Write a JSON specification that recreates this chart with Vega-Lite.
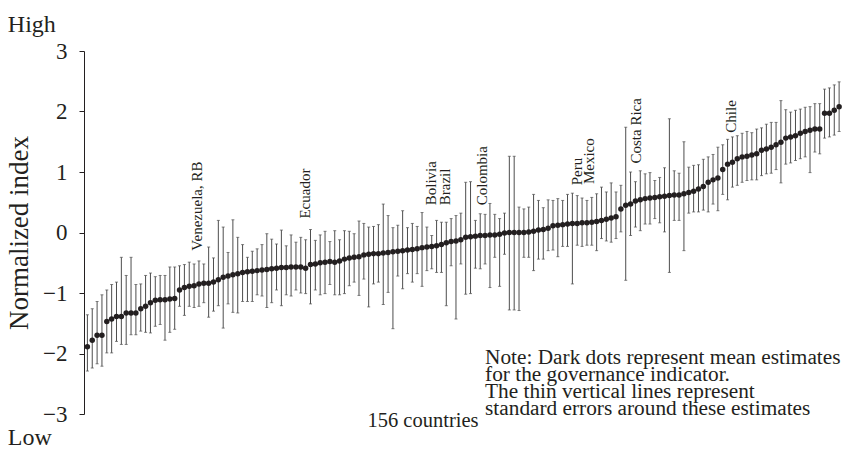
{
"$schema": "https://vega.github.io/schema/vega-lite/v6.json",
"width": 759, "height": 363,
"autosize": {"type": "none"},
"padding": {"left": 84, "top": 51, "right": 0, "bottom": 40},
"background": "white",
"config": {"view": {"stroke": null}, "font": "Times New Roman, Liberation Serif, Times, serif", "text": {"font": "Times New Roman, Liberation Serif, Times, serif"}},
"datasets": {
"countries": [
{"rank":1,"mean":-1.89,"low":-2.29,"high":-1.36},
{"rank":2,"mean":-1.78,"low":-2.24,"high":-1.26},
{"rank":3,"mean":-1.70,"low":-2.17,"high":-1.14},
{"rank":4,"mean":-1.70,"low":-2.21,"high":-1.03},
{"rank":5,"mean":-1.47,"low":-1.99,"high":-0.95},
{"rank":6,"mean":-1.43,"low":-1.99,"high":-0.86},
{"rank":7,"mean":-1.39,"low":-1.80,"high":-0.82},
{"rank":8,"mean":-1.39,"low":-1.85,"high":-0.41},
{"rank":9,"mean":-1.33,"low":-1.85,"high":-0.71},
{"rank":10,"mean":-1.33,"low":-1.69,"high":-0.41},
{"rank":11,"mean":-1.33,"low":-1.69,"high":-0.86},
{"rank":12,"mean":-1.26,"low":-1.63,"high":-0.85},
{"rank":13,"mean":-1.22,"low":-1.65,"high":-0.71},
{"rank":14,"mean":-1.16,"low":-1.66,"high":-0.67},
{"rank":15,"mean":-1.12,"low":-1.55,"high":-0.73},
{"rank":16,"mean":-1.11,"low":-1.52,"high":-0.71},
{"rank":17,"mean":-1.11,"low":-1.78,"high":-0.71},
{"rank":18,"mean":-1.10,"low":-1.65,"high":-0.57},
{"rank":19,"mean":-1.09,"low":-1.60,"high":-0.57},
{"rank":20,"mean":-0.95,"low":-1.22,"high":-0.55},
{"rank":21,"mean":-0.91,"low":-1.37,"high":-0.53},
{"rank":22,"mean":-0.89,"low":-1.22,"high":-0.49},
{"rank":23,"mean":-0.88,"low":-1.24,"high":-0.52},
{"rank":24,"mean":-0.85,"low":-1.22,"high":-0.47},
{"rank":25,"mean":-0.84,"low":-1.16,"high":-0.52},
{"rank":26,"mean":-0.84,"low":-1.40,"high":-0.24},
{"rank":27,"mean":-0.82,"low":-1.30,"high":-0.42},
{"rank":28,"mean":-0.78,"low":-1.21,"high":0.20},
{"rank":29,"mean":-0.74,"low":-1.58,"high":0.09},
{"rank":30,"mean":-0.72,"low":-1.18,"high":-0.33},
{"rank":31,"mean":-0.70,"low":-1.32,"high":0.21},
{"rank":32,"mean":-0.68,"low":-1.33,"high":-0.08},
{"rank":33,"mean":-0.66,"low":-1.14,"high":-0.20},
{"rank":34,"mean":-0.65,"low":-1.14,"high":-0.41},
{"rank":35,"mean":-0.64,"low":-1.14,"high":-0.31},
{"rank":36,"mean":-0.63,"low":-1.03,"high":-0.27},
{"rank":37,"mean":-0.62,"low":-1.05,"high":-0.20},
{"rank":38,"mean":-0.61,"low":-1.24,"high":-0.02},
{"rank":39,"mean":-0.60,"low":-1.16,"high":-0.11},
{"rank":40,"mean":-0.59,"low":-0.95,"high":-0.19},
{"rank":41,"mean":-0.58,"low":-1.21,"high":0.04},
{"rank":42,"mean":-0.58,"low":-1.03,"high":-0.22},
{"rank":43,"mean":-0.57,"low":-1.05,"high":-0.04},
{"rank":44,"mean":-0.57,"low":-0.95,"high":-0.16},
{"rank":45,"mean":-0.57,"low":-1.00,"high":-0.08},
{"rank":46,"mean":-0.59,"low":-1.01,"high":-0.12},
{"rank":47,"mean":-0.53,"low":-1.18,"high":0.05},
{"rank":48,"mean":-0.52,"low":-0.95,"high":-0.13},
{"rank":49,"mean":-0.50,"low":-1.03,"high":-0.04},
{"rank":50,"mean":-0.49,"low":-1.01,"high":0.02},
{"rank":51,"mean":-0.48,"low":-0.86,"high":-0.15},
{"rank":52,"mean":-0.49,"low":-1.03,"high":0.03},
{"rank":53,"mean":-0.47,"low":-1.03,"high":-0.12},
{"rank":54,"mean":-0.44,"low":-1.01,"high":0.03},
{"rank":55,"mean":-0.42,"low":-0.88,"high":0.02},
{"rank":56,"mean":-0.41,"low":-0.82,"high":-0.02},
{"rank":57,"mean":-0.40,"low":-1.04,"high":0.19},
{"rank":58,"mean":-0.37,"low":-0.77,"high":0.15},
{"rank":59,"mean":-0.36,"low":-1.23,"high":0.09},
{"rank":60,"mean":-0.35,"low":-0.85,"high":0.10},
{"rank":61,"mean":-0.35,"low":-0.82,"high":0.13},
{"rank":62,"mean":-0.34,"low":-1.19,"high":0.47},
{"rank":63,"mean":-0.33,"low":-0.99,"high":0.28},
{"rank":64,"mean":-0.32,"low":-1.59,"high":0.08},
{"rank":65,"mean":-0.31,"low":-0.72,"high":0.12},
{"rank":66,"mean":-0.30,"low":-0.93,"high":0.36},
{"rank":67,"mean":-0.29,"low":-0.68,"high":0.08},
{"rank":68,"mean":-0.28,"low":-0.82,"high":0.15},
{"rank":69,"mean":-0.27,"low":-0.68,"high":0.10},
{"rank":70,"mean":-0.25,"low":-0.89,"high":0.33},
{"rank":71,"mean":-0.24,"low":-0.63,"high":0.09},
{"rank":72,"mean":-0.23,"low":-0.60,"high":-0.05},
{"rank":73,"mean":-0.22,"low":-0.66,"high":0.20},
{"rank":74,"mean":-0.20,"low":-0.66,"high":0.17},
{"rank":75,"mean":-0.17,"low":-1.21,"high":0.17},
{"rank":76,"mean":-0.15,"low":-0.55,"high":0.23},
{"rank":77,"mean":-0.14,"low":-1.43,"high":0.28},
{"rank":78,"mean":-0.12,"low":-0.52,"high":0.32},
{"rank":79,"mean":-0.08,"low":-1.02,"high":0.83},
{"rank":80,"mean":-0.07,"low":-1.01,"high":0.84},
{"rank":81,"mean":-0.06,"low":-0.59,"high":0.20},
{"rank":82,"mean":-0.05,"low":-0.60,"high":0.31},
{"rank":83,"mean":-0.05,"low":-0.52,"high":0.30},
{"rank":84,"mean":-0.04,"low":-0.91,"high":0.48},
{"rank":85,"mean":-0.04,"low":-0.41,"high":0.30},
{"rank":86,"mean":-0.03,"low":-0.89,"high":0.23},
{"rank":87,"mean":-0.01,"low":-0.36,"high":0.32},
{"rank":88,"mean":0.00,"low":-1.28,"high":1.26},
{"rank":89,"mean":0.00,"low":-1.28,"high":1.26},
{"rank":90,"mean":0.00,"low":-1.29,"high":0.42},
{"rank":91,"mean":0.00,"low":-0.41,"high":0.39},
{"rank":92,"mean":0.01,"low":-0.41,"high":0.42},
{"rank":93,"mean":0.02,"low":-0.63,"high":0.63},
{"rank":94,"mean":0.04,"low":-0.44,"high":0.53},
{"rank":95,"mean":0.05,"low":-0.44,"high":0.41},
{"rank":96,"mean":0.07,"low":-0.30,"high":0.54},
{"rank":97,"mean":0.11,"low":-0.29,"high":0.53},
{"rank":98,"mean":0.12,"low":-0.40,"high":0.56},
{"rank":99,"mean":0.13,"low":-0.23,"high":0.53},
{"rank":100,"mean":0.14,"low":-0.23,"high":0.63},
{"rank":101,"mean":0.15,"low":-0.85,"high":0.65},
{"rank":102,"mean":0.15,"low":-0.21,"high":0.61},
{"rank":103,"mean":0.16,"low":-0.23,"high":0.57},
{"rank":104,"mean":0.16,"low":-0.21,"high":0.53},
{"rank":105,"mean":0.17,"low":-0.21,"high":0.58},
{"rank":106,"mean":0.18,"low":-0.30,"high":0.64},
{"rank":107,"mean":0.20,"low":-0.10,"high":0.75},
{"rank":108,"mean":0.22,"low":-0.14,"high":0.67},
{"rank":109,"mean":0.24,"low":-0.16,"high":0.82},
{"rank":110,"mean":0.26,"low":-0.10,"high":0.67},
{"rank":111,"mean":0.39,"low":0.01,"high":0.78},
{"rank":112,"mean":0.45,"low":-0.79,"high":1.74},
{"rank":113,"mean":0.47,"low":-0.05,"high":1.00},
{"rank":114,"mean":0.52,"low":0.09,"high":0.84},
{"rank":115,"mean":0.54,"low":0.03,"high":1.02},
{"rank":116,"mean":0.56,"low":0.14,"high":0.97},
{"rank":117,"mean":0.57,"low":0.14,"high":0.99},
{"rank":118,"mean":0.58,"low":0.23,"high":0.86},
{"rank":119,"mean":0.59,"low":0.16,"high":0.91},
{"rank":120,"mean":0.60,"low":0.01,"high":1.07},
{"rank":121,"mean":0.61,"low":-0.66,"high":1.88},
{"rank":122,"mean":0.62,"low":0.20,"high":1.02},
{"rank":123,"mean":0.62,"low":0.20,"high":0.98},
{"rank":124,"mean":0.64,"low":-0.30,"high":1.50},
{"rank":125,"mean":0.66,"low":0.32,"high":1.08},
{"rank":126,"mean":0.68,"low":0.34,"high":1.11},
{"rank":127,"mean":0.72,"low":0.34,"high":1.12},
{"rank":128,"mean":0.76,"low":0.37,"high":1.21},
{"rank":129,"mean":0.83,"low":0.34,"high":1.25},
{"rank":130,"mean":0.87,"low":0.47,"high":1.29},
{"rank":131,"mean":0.90,"low":0.36,"high":1.41},
{"rank":132,"mean":1.04,"low":0.63,"high":1.45},
{"rank":133,"mean":1.13,"low":0.54,"high":1.54},
{"rank":134,"mean":1.16,"low":0.75,"high":1.58},
{"rank":135,"mean":1.22,"low":0.78,"high":1.60},
{"rank":136,"mean":1.25,"low":0.83,"high":1.64},
{"rank":137,"mean":1.26,"low":0.86,"high":1.67},
{"rank":138,"mean":1.28,"low":0.87,"high":1.65},
{"rank":139,"mean":1.30,"low":0.87,"high":1.71},
{"rank":140,"mean":1.36,"low":0.94,"high":1.73},
{"rank":141,"mean":1.38,"low":0.97,"high":1.79},
{"rank":142,"mean":1.41,"low":0.98,"high":1.82},
{"rank":143,"mean":1.45,"low":1.04,"high":1.82},
{"rank":144,"mean":1.49,"low":0.82,"high":2.18},
{"rank":145,"mean":1.56,"low":1.13,"high":2.03},
{"rank":146,"mean":1.58,"low":1.15,"high":1.99},
{"rank":147,"mean":1.60,"low":1.19,"high":2.02},
{"rank":148,"mean":1.64,"low":1.22,"high":2.04},
{"rank":149,"mean":1.67,"low":1.25,"high":2.07},
{"rank":150,"mean":1.69,"low":0.99,"high":2.08},
{"rank":151,"mean":1.71,"low":1.33,"high":2.13},
{"rank":152,"mean":1.71,"low":1.30,"high":2.13},
{"rank":153,"mean":1.97,"low":1.56,"high":2.37},
{"rank":154,"mean":1.97,"low":1.58,"high":2.39},
{"rank":155,"mean":2.02,"low":1.61,"high":2.44},
{"rank":156,"mean":2.08,"low":1.67,"high":2.49}
],
"labels": [
{"name":"Venezuela, RB","rank":23.6,"anchor":-0.30},
{"name":"Ecuador","rank":45.9,"anchor":0.23},
{"name":"Bolivia","rank":71.8,"anchor":0.45},
{"name":"Brazil","rank":74.7,"anchor":0.45},
{"name":"Colombia","rank":82.4,"anchor":0.45},
{"name":"Peru","rank":101.9,"anchor":0.78},
{"name":"Mexico","rank":104.4,"anchor":0.80},
{"name":"Costa Rica","rank":114.2,"anchor":1.14},
{"name":"Chile","rank":133.7,"anchor":1.65}
],
"notes": [
{"text":"Note: Dark dots represent mean estimates"}
]
},
"layer": [
{"data": {"name": "countries"},
 "mark": {"type": "rule", "color": "#4d4d4d", "strokeWidth": 1},
 "encoding": {
  "x": {"field": "rank", "type": "quantitative", "scale": {"domain": [0.3, 156.8], "nice": false, "zero": false}, "axis": null},
  "y": {"field": "low", "type": "quantitative", "scale": {"domain": [-3, 3], "nice": false},
   "axis": {"values": [-3,-2,-1,0,1,2,3], "format": "d", "grid": false, "domainColor": "#231f20", "tickColor": "#231f20", "tickSize": 5,
    "labelFontSize": 23, "labelColor": "#231f20", "labelPadding": 12, "labelFont": "Times New Roman, Liberation Serif, serif",
    "title": "Normalized index", "titleFontSize": 27, "titleFontWeight": "normal", "titleColor": "#231f20", "titleFont": "Times New Roman, Liberation Serif, serif", "titlePadding": 9}},
  "y2": {"field": "high"}
 }},
{"data": {"name": "countries"},
 "mark": {"type": "tick", "orient": "horizontal", "size": 3, "thickness": 1, "color": "#4d4d4d"},
 "encoding": {"x": {"field": "rank", "type": "quantitative"}, "y": {"field": "low", "type": "quantitative"}}},
{"data": {"name": "countries"},
 "mark": {"type": "tick", "orient": "horizontal", "size": 3, "thickness": 1, "color": "#4d4d4d"},
 "encoding": {"x": {"field": "rank", "type": "quantitative"}, "y": {"field": "high", "type": "quantitative"}}},
{"data": {"name": "countries"},
 "mark": {"type": "circle", "size": 30, "color": "#231f20", "opacity": 1},
 "encoding": {"x": {"field": "rank", "type": "quantitative"}, "y": {"field": "mean", "type": "quantitative"}}},
{"data": {"name": "labels"},
 "mark": {"type": "text", "angle": 270, "align": "left", "baseline": "middle", "fontSize": 15, "color": "#231f20"},
 "encoding": {"x": {"field": "rank", "type": "quantitative"}, "y": {"field": "anchor", "type": "quantitative"}, "text": {"field": "name"}}},
{"data": {"name": "notes"},
 "mark": {"type": "text", "align": "left", "baseline": "alphabetic", "fontSize": 21.3, "lineHeight": 17, "color": "#231f20"},
 "encoding": {"x": {"datum": 83.0}, "y": {"datum": -2.17}, "text": {"value": ["Note: Dark dots represent mean estimates", "for the governance indicator.", "The thin vertical lines represent", "standard errors around these estimates"]}}},
{"data": {"name": "notes"},
 "mark": {"type": "text", "align": "center", "baseline": "alphabetic", "fontSize": 20.5, "color": "#231f20"},
 "encoding": {"x": {"datum": 70.2}, "y": {"datum": -3.22}, "text": {"value": "156 countries"}}},
{"data": {"name": "notes"},
 "mark": {"type": "text", "align": "left", "baseline": "alphabetic", "fontSize": 24, "color": "#231f20"},
 "encoding": {"x": {"datum": -15.4}, "y": {"datum": -3.52}, "text": {"value": "Low"}}},
{"data": {"name": "notes"},
 "mark": {"type": "text", "align": "left", "baseline": "alphabetic", "fontSize": 24, "color": "#231f20"},
 "encoding": {"x": {"datum": -15.4}, "y": {"datum": 3.32}, "text": {"value": "High"}}}
]
}
